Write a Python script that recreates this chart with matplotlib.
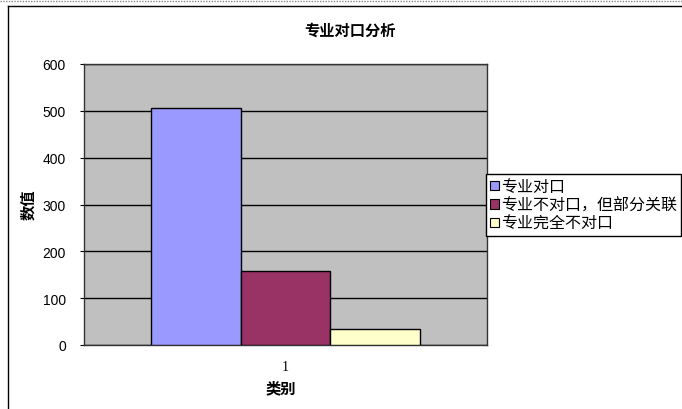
import numpy as np
import matplotlib.pyplot as plt
from matplotlib.lines import Line2D
from matplotlib.patches import Patch

plt.rcParams['font.family'] = ['Liberation Sans', 'Noto Sans CJK SC', 'DejaVu Sans']

# data
categories = ['1']
series_names = ['专业对口', '专业不对口，但部分关联', '专业完全不对口']
series_values = [505, 157, 34]
series_colors = ['#9999FF', '#993366', '#FFFFCC']
y_ticks = [0, 100, 200, 300, 400, 500, 600]

W, H = 682, 410
fig = plt.figure(figsize=(W / 100, H / 100), dpi=100)
fig.patch.set_facecolor('white')

# plot area in pixels: x 84..487, y 65..346
ax = fig.add_axes([84 / W, (H - 346) / H, (487 - 84) / W, (346 - 65) / H])
ax.set_facecolor('#C0C0C0')

w = 0.222
x = np.arange(len(categories))
for i, (name, val, col) in enumerate(zip(series_names, series_values, series_colors)):
    ax.bar(x + (i - 1) * w, [val], width=w, color=col, edgecolor='black',
           linewidth=1, label=name, zorder=3)

ax.set_xlim(-0.5, 0.5)
ax.set_ylim(0, 600)
ax.set_yticks(y_ticks)
ax.set_yticklabels([str(t) for t in y_ticks], fontsize=10)
ax.set_xticks(x)
ax.set_xticklabels(categories, fontsize=10, family=['Liberation Serif', 'DejaVu Serif'])
ax.tick_params(axis='x', length=0, pad=11)
ax.tick_params(axis='y', length=3, pad=10)
ax.yaxis.grid(True, color='black', linewidth=1)
ax.set_axisbelow(True)
for s in ax.spines.values():
    s.set_color('#333333')
    s.set_linewidth(1)

fig.text(350 / W, 1 - 31 / H, '专业对口分析', ha='center', va='center',
         fontsize=11, fontweight='bold', family=['Noto Sans CJK SC'])
fig.text(28 / W, 1 - 205 / H, '数值', ha='center', va='center', rotation=90,
         fontsize=11, fontweight='bold', family=['Noto Sans CJK SC'])
fig.text(281 / W, 1 - 388 / H, '类别', ha='center', va='center',
         fontsize=11, fontweight='bold', family=['Noto Sans CJK SC'])

handles = [Patch(facecolor=c, edgecolor='black', linewidth=0.8) for c in series_colors]
leg = fig.legend(handles, series_names, loc='upper left',
                 bbox_to_anchor=(486 / W, 1 - 175 / H),
                 frameon=True, fancybox=False, framealpha=1, edgecolor='black',
                 handlelength=0.55, handleheight=0.55, handletextpad=0.15,
                 labelspacing=0.1, borderpad=0.25, borderaxespad=0,
                 prop={'family': ['Noto Sans CJK SC'], 'size': 11.5})
leg.get_frame().set_linewidth(1)

# chart border (left and top) and dotted line above
fig.add_artist(Line2D([8 / W, 8 / W], [0, 1 - 7 / H], color='black', linewidth=1))
fig.add_artist(Line2D([8 / W, 1], [1 - 7 / H, 1 - 7 / H], color='black', linewidth=1))
fig.add_artist(Line2D([0, 1], [1 - 2 / H, 1 - 2 / H], color='#888888',
                      linewidth=1, linestyle=(0, (1, 1))))

fig.savefig('out.png', dpi=100)
